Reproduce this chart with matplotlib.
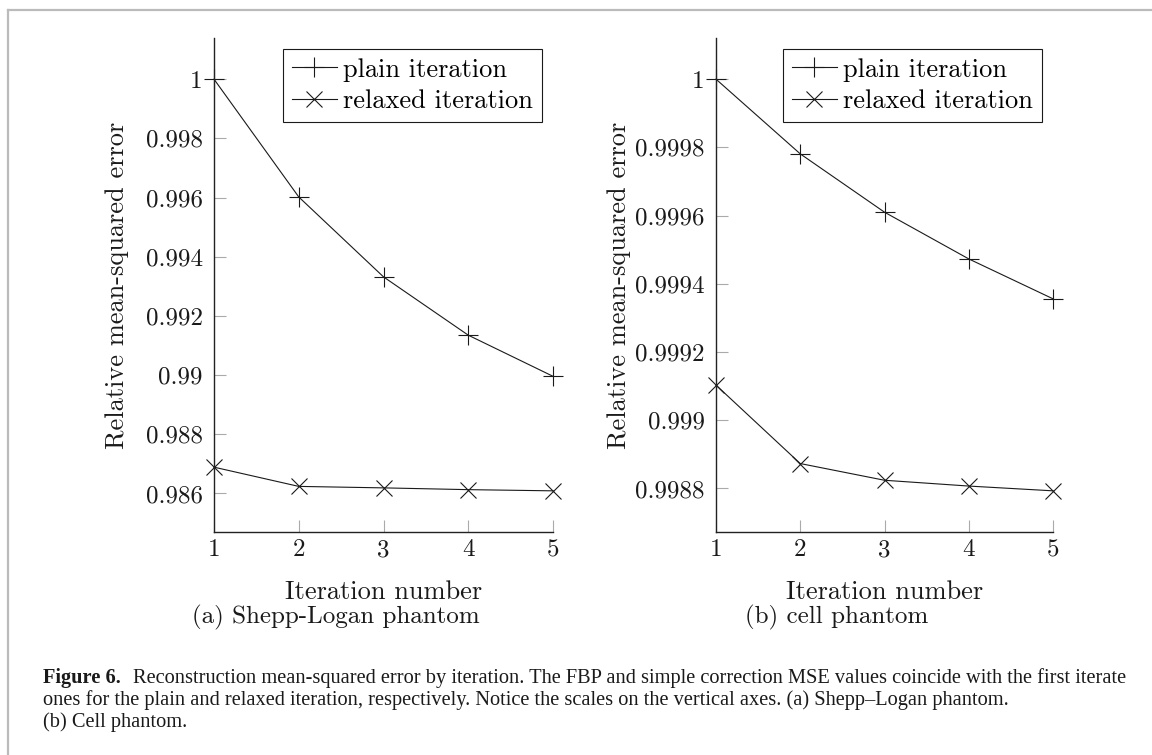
import matplotlib
matplotlib.use('Agg')
import matplotlib.pyplot as plt
from matplotlib.lines import Line2D
from matplotlib.ticker import FixedLocator, FuncFormatter

# data
iterations = [1, 2, 3, 4, 5]
shepp_plain = [1.0, 0.99602, 0.99332, 0.99135, 0.98996]
shepp_relaxed = [0.98689, 0.98624, 0.98619, 0.98613, 0.98609]
cell_plain = [1.0, 0.999781, 0.99961, 0.999473, 0.999356]
cell_relaxed = [0.999103, 0.998873, 0.998824, 0.998807, 0.998793]
shepp_yticks = [0.986, 0.988, 0.99, 0.992, 0.994, 0.996, 0.998, 1.0]
cell_yticks = [0.9988, 0.999, 0.9992, 0.9994, 0.9996, 0.9998, 1.0]
series_labels = ['plain iteration', 'relaxed iteration']
subcaptions = ['(a) Shepp-Logan phantom', '(b) cell phantom']
caption_bold = 'Figure 6.'
caption_lines = [
    'Reconstruction mean-squared error by iteration. The FBP and simple correction MSE values coincide with the first iterate',
    'ones for the plain and relaxed iteration, respectively. Notice the scales on the vertical axes. (a) Shepp\u2013Logan phantom.',
    '(b) Cell phantom.',
]

plt.rcParams['font.family'] = ['cmr10', 'DejaVu Serif']
plt.rcParams['mathtext.fontset'] = 'cm'
plt.rcParams['axes.formatter.use_mathtext'] = True

W, H = 1152, 755
fig = plt.figure(figsize=(W / 100, H / 100), dpi=100)


def fmt(v, pos):
    return ('%.4f' % v).rstrip('0').rstrip('.')


def make_panel(rect, plain, relaxed, yticks, subcap, cap_x):
    ax = fig.add_axes(rect)
    ax.plot(iterations, plain, color='#1a1a1a', lw=0.8, marker='+', ms=15, mew=0.8,
            clip_on=False, label=series_labels[0])
    ax.plot(iterations, relaxed, color='#1a1a1a', lw=0.8, marker='x', ms=11, mew=0.8,
            clip_on=False, label=series_labels[1])
    lo = min(relaxed + plain)
    hi = max(relaxed + plain)
    pad = 0.1 * (hi - lo)
    ax.set_ylim(lo - pad, hi + pad)
    ax.set_xlim(1, 5)
    ax.xaxis.set_major_locator(FixedLocator(iterations))
    ax.yaxis.set_major_locator(FixedLocator(yticks))
    ax.xaxis.set_major_formatter(FuncFormatter(fmt))
    ax.yaxis.set_major_formatter(FuncFormatter(fmt))
    for s in ['top', 'right']:
        ax.spines[s].set_visible(False)
    for s in ['left', 'bottom']:
        ax.spines[s].set_color('#222222')
        ax.spines[s].set_linewidth(1.0)
    ax.tick_params(direction='in', length=8.5, width=0.8, color='#aaaaaa',
                   labelsize=18, labelcolor='#1a1a1a')
    ax.tick_params(axis='y', pad=8)
    ax.tick_params(axis='x', pad=5)
    ax.set_xlabel('Iteration number', fontsize=19, va='center', color='#1a1a1a')
    ax.xaxis.set_label_coords(0.5, -0.121)
    ax.set_ylabel('Relative mean-squared error', fontsize=19, va='center', color='#1a1a1a')
    ax.yaxis.set_label_coords(-0.286, 0.5)
    leg = ax.legend(loc='upper right', fontsize=19, fancybox=False, framealpha=1,
                    edgecolor='#1a1a1a', borderaxespad=0.4, handlelength=1.7,
                    handletextpad=0.25, labelspacing=0.3, borderpad=0.35)
    leg.get_frame().set_linewidth(0.8)
    fig.text(cap_x / W, 1 - 617 / H, subcap, fontsize=18, ha='center', va='center',
             color='#1a1a1a')
    return ax


ax1 = make_panel([214 / W, 1 - 532 / H, 339 / W, 494 / H], shepp_plain, shepp_relaxed,
                 shepp_yticks, subcaptions[0], 336)
ax2 = make_panel([716 / W, 1 - 532 / H, 337 / W, 494 / H], cell_plain, cell_relaxed,
                 cell_yticks, subcaptions[1], 837)

# grey page frame (top and left edges)
fig.add_artist(Line2D([8 / W, 1], [1 - 10 / H, 1 - 10 / H], color='#bbbbbb', lw=1.6))
fig.add_artist(Line2D([8 / W, 8 / W], [0, 1 - 10 / H], color='#bbbbbb', lw=1.6))

# caption, sized so that the first line spans the same width as in the reference
renderer = fig.canvas.get_renderer()
cap_font = ['Liberation Serif', 'DejaVu Serif']
x0, target = 43, 1090
gap = 12


def first_line(size):
    t1 = fig.text(x0 / W, 1 - 678 / H, caption_bold, fontsize=size, fontweight='bold',
                  family=cap_font, ha='left', va='center', color='#1a1a1a')
    w1 = t1.get_window_extent(renderer).width
    t2 = fig.text((x0 + w1 + gap) / W, 1 - 678 / H, caption_lines[0], fontsize=size,
                  family=cap_font, ha='left', va='center', color='#1a1a1a')
    w2 = t2.get_window_extent(renderer).width
    return t1, t2, w1 + gap + w2


t1, t2, w = first_line(14)
size = 14 * target / w
t1.remove()
t2.remove()
first_line(size)
fig.text(x0 / W, 1 - 700 / H, caption_lines[1], fontsize=size, family=cap_font,
         ha='left', va='center', color='#1a1a1a')
fig.text(x0 / W, 1 - 722 / H, caption_lines[2], fontsize=size, family=cap_font,
         ha='left', va='center', color='#1a1a1a')

fig.savefig('out.png', dpi=100)
